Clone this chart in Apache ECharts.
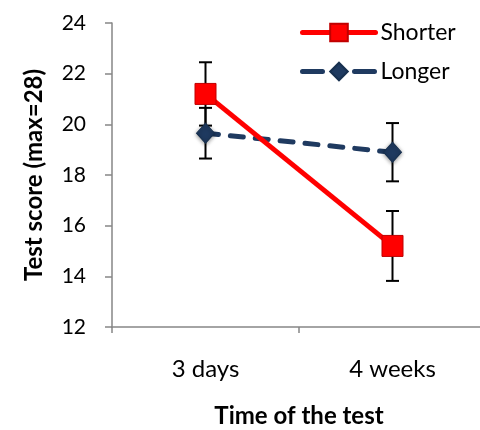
<!DOCTYPE html>
<html><head><meta charset="utf-8">
<script src="https://cdn.jsdelivr.net/npm/echarts@6/dist/echarts.min.js"></script>
<style>html,body{margin:0;padding:0;background:#fff;overflow:hidden}#c{width:480px;height:430px}</style>
</head><body><div id="c"></div>
<script>
var categories = ['3 days', '4 weeks'];
var shorter = [21.2, 15.2];
var shorterErr = [1.25, 1.38];
var longer = [19.65, 18.9];
var longerErr = [1.0, 1.15];
var yTicks = {min: 12, max: 24, interval: 2};

var FONT = 'Lato';
function errSeries(vals, errs, z) {
  return {
    type: 'custom', z: z, silent: true,
    data: vals.map(function(v, i){ return [i, v - errs[i], v + errs[i]]; }),
    renderItem: function(params, api) {
      var lo = api.coord([api.value(0), api.value(1)]);
      var hi = api.coord([api.value(0), api.value(2)]);
      var w = 6.5;
      var st = {stroke: '#000', lineWidth: 2};
      return {type: 'group', children: [
        {type: 'line', shape: {x1: hi[0], y1: hi[1], x2: lo[0], y2: lo[1]}, style: st},
        {type: 'line', shape: {x1: hi[0]-w, y1: hi[1], x2: hi[0]+w, y2: hi[1]}, style: st},
        {type: 'line', shape: {x1: lo[0]-w, y1: lo[1], x2: lo[0]+w, y2: lo[1]}, style: st}
      ]};
    }
  };
}
var chart = echarts.init(document.getElementById('c'));
chart.setOption({
  animation: false,
  textStyle: {fontFamily: FONT},
  grid: {left: 112, top: 23, width: 374, height: 304, containLabel: false, outerBoundsMode: 'none'},
  legend: {
    orient: 'vertical', left: 300, top: 21, padding: 0, itemWidth: 73, itemHeight: 22, itemGap: 16,
    textStyle: {fontFamily: FONT, fontSize: 23, color: '#000'},
    data: [
      {name: 'Shorter', lineStyle: {width: 5, cap: 'round'}},
      {name: 'Longer', lineStyle: {type: [20, 32], cap: 'round', width: 5}}
    ]
  },
  xAxis: {
    type: 'category', data: categories, boundaryGap: true,
    name: 'Time of the test', nameLocation: 'middle', nameGap: 77,
    nameTextStyle: {fontFamily: FONT, fontSize: 24, fontWeight: 'bold', color: '#000'},
    axisLine: {lineStyle: {color: '#868686', width: 1.5}},
    axisTick: {show: true, length: 6, interval: 0, lineStyle: {color: '#868686', width: 1.5}},
    axisLabel: {fontFamily: FONT, fontSize: 24, color: '#000', margin: 30}
  },
  yAxis: {
    type: 'value', min: yTicks.min, max: yTicks.max, interval: yTicks.interval,
    name: 'Test score (max=28)', nameLocation: 'middle', nameGap: 66, nameRotate: 90,
    nameTextStyle: {fontFamily: FONT, fontSize: 24, fontWeight: 'bold', color: '#000'},
    axisLine: {show: true, lineStyle: {color: '#868686', width: 1.5}},
    axisTick: {show: true, length: 7, lineStyle: {color: '#868686', width: 1.5}},
    splitLine: {show: false},
    axisLabel: {fontFamily: FONT, fontSize: 21, color: '#000', margin: 26}
  },
  series: [
    errSeries(shorter, shorterErr, 1),
    errSeries(longer, longerErr, 1),
    {
      name: 'Longer', type: 'line', data: longer, z: 3,
      symbol: 'diamond', symbolSize: [18, 20],
      itemStyle: {color: '#1F3A60', borderColor: '#17304f', borderWidth: 1, shadowBlur: 4, shadowColor: 'rgba(0,0,0,0.4)', shadowOffsetY: 1},
      lineStyle: {color: '#1F3A60', width: 5, type: [13, 12], cap: 'round'}
    },
    {
      name: 'Shorter', type: 'line', data: shorter, z: 4,
      symbol: 'rect', symbolSize: 21,
      itemStyle: {color: '#FF0000', borderColor: '#C00000', borderWidth: 1},
      lineStyle: {color: '#FF0000', width: 5}
    }
  ]
});
</script></body></html>
